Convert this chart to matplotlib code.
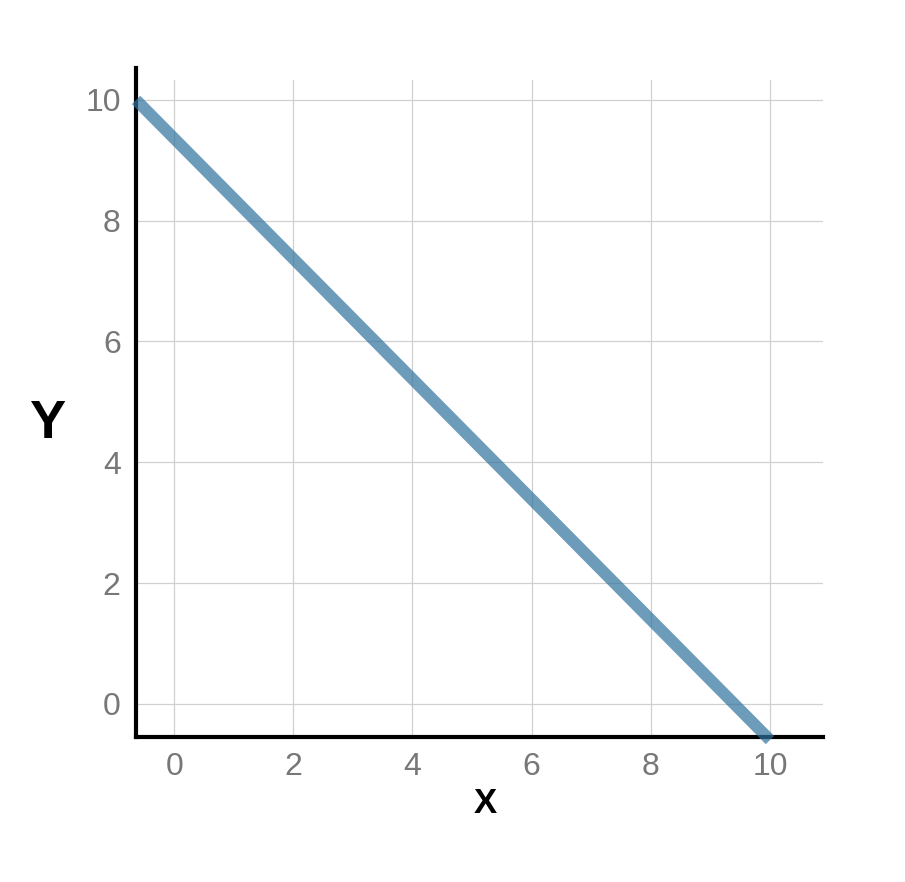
import numpy as np
import matplotlib.pyplot as plt

# line endpoints
x_vals = [-0.64, 10.0]
y_vals = [10.0, -0.6]
x_ticks = [0, 2, 4, 6, 8, 10]
y_ticks = [0, 2, 4, 6, 8, 10]

plt.rcParams['font.family'] = ['Liberation Sans', 'DejaVu Sans']

fig = plt.figure(figsize=(9.05, 8.82), dpi=100)
ax = fig.add_axes([0.1503, 0.1644, 0.9094 - 0.1503, 0.9093 - 0.1644])

ax.plot(x_vals, y_vals, color='#2f729f', alpha=0.7, linewidth=8.5,
        solid_capstyle='butt', clip_on=False, zorder=3)

ax.set_xlim(-0.64, 10.89)
ax.set_ylim(-0.55, 10.33)
ax.set_xticks(x_ticks)
ax.set_yticks(y_ticks)
ax.grid(True, color='#d0d0d0', linewidth=0.9)
ax.set_axisbelow(True)

ax.tick_params(length=0, labelsize=23, labelcolor='#777777')
ax.tick_params(axis='x', pad=11)
ax.tick_params(axis='y', pad=11)

for side in ['top', 'right']:
    ax.spines[side].set_visible(False)
for side in ['left', 'bottom']:
    ax.spines[side].set_linewidth(3)
    ax.spines[side].set_color('black')
ax.spines['left'].set_bounds(-0.55, 10.53)
ax.spines['left'].set_zorder(2)

ax.set_xlabel('X', fontsize=25, fontweight='bold', va='center')
ax.set_ylabel('Y', fontsize=39, fontweight='bold', rotation=0, va='center', ha='center')
ax.xaxis.set_label_coords(0.508, -0.1005)
ax.yaxis.set_label_coords(-0.13, 0.477)

fig.savefig('out.png', dpi=100)
